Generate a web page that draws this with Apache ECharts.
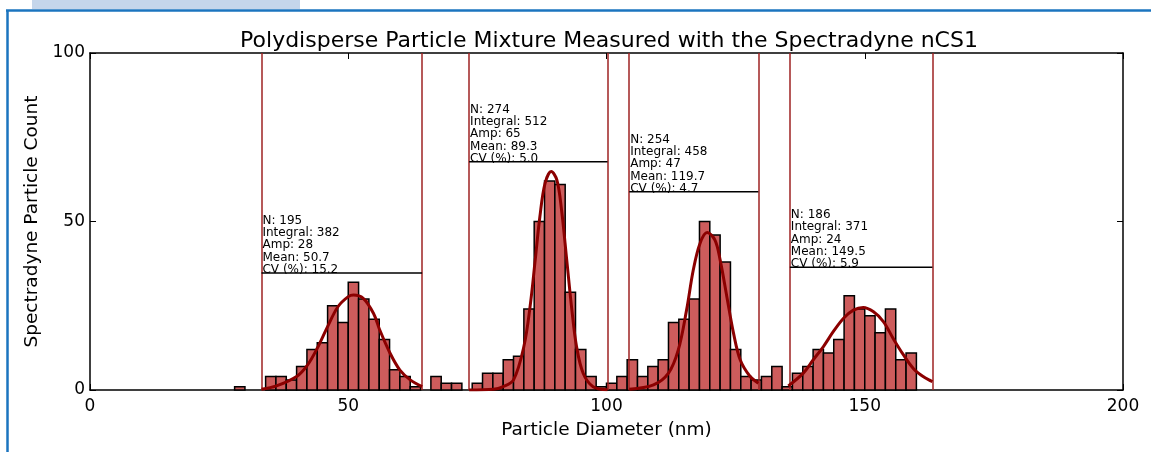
<!DOCTYPE html>
<html>
<head>
<meta charset="utf-8">
<title>Polydisperse Particle Mixture</title>
<script src="https://cdn.jsdelivr.net/npm/echarts@6/dist/echarts.min.js"></script>
<style>
  html, body { margin: 0; padding: 0; background: #fff; }
  #chart { width: 1151px; height: 452px; }
</style>
</head>
<body>
<div id="chart"></div>
<script>
// histogram bins (left edge, nm) and counts, bin width 2 nm
var binLeft = [28, 30, 32, 34, 36, 38, 40, 42, 44, 46, 48, 50, 52, 54, 56, 58, 60, 62, 64, 66,
               68, 70, 72, 74, 76, 78, 80, 82, 84, 86, 88, 90, 92, 94, 96, 98, 100, 102, 104, 106,
               108, 110, 112, 114, 116, 118, 120, 122, 124, 126, 128, 130, 132, 134, 136, 138, 140, 142, 144, 146,
               148, 150, 152, 154, 156, 158];
var binRight = [30, 32, 34, 36, 38, 40, 42, 44, 46, 48, 50, 52, 54, 56, 58, 60, 62, 64, 66, 68,
                70, 72, 74, 76, 78, 80, 82, 84, 86, 88, 90, 92, 94, 96, 98, 100, 102, 104, 106, 108,
                110, 112, 114, 116, 118, 120, 122, 124, 126, 128, 130, 132, 134, 136, 138, 140, 142, 144, 146, 148,
                150, 152, 154, 156, 158, 160];
var counts = [1, 0, 0, 4, 4, 3, 7, 12, 14, 25, 20, 32, 27, 21, 15, 6, 4, 1, 0, 4,
              2, 2, 0, 2, 5, 5, 9, 10, 24, 50, 62, 61, 29, 12, 4, 1, 2, 4, 9, 4,
              7, 9, 20, 21, 27, 50, 46, 38, 12, 4, 3, 4, 7, 1, 5, 7, 12, 11, 15, 28,
              24, 22, 17, 24, 9, 11];

// fitted curves
var fit1X = [33.2, 36.1, 40.0, 42.1, 44.0, 46.0, 48.0, 50.0, 51.0, 52.9, 54.9, 56.1, 58.1, 60.0, 62.0, 64.3];
var fit1Y = [0.2, 1.2, 4.0, 7.4, 12.4, 18.8, 24.7, 27.7, 28.2, 27.2, 22.7, 17.8, 10.9, 5.9, 3.0, 1.0];
var fit2X = [73.4, 78.1, 80.0, 82.0, 84.0, 85.2, 86.2, 87.1, 88.1, 89.3, 90.4, 91.3, 92.3, 93.3, 94.2, 95.5, 97.4, 100.2];
var fit2Y = [0, 0.2, 1.0, 3.0, 12.9, 24.7, 38.6, 51.4, 61.3, 64.8, 62.3, 53.4, 38.6, 23.7, 12.9, 4.9, 1.0, 0.1];
var fit3X = [104.4, 109.1, 112.0, 113.9, 115.5, 116.8, 118.1, 119.5, 121.0, 122.0, 123.3, 124.6, 125.9, 127.8, 129.4];
var fit3Y = [0.2, 1.5, 5.0, 11.9, 23.7, 35.6, 43.5, 46.7, 44.5, 38.6, 27.7, 16.8, 8.9, 4.0, 2.0];
var fit4X = [135.2, 138.1, 140.0, 142.0, 143.9, 145.9, 147.8, 149.7, 151.7, 153.6, 155.5, 157.5, 159.4, 161.3, 163.1];
var fit4Y = [1.2, 5.0, 8.9, 12.9, 17.3, 21.3, 23.7, 24.5, 23.2, 20.3, 15.3, 10.4, 6.4, 4.0, 2.5];

// peak windows and stats
var winLeft = [33.2, 73.4, 104.4, 135.5];
var winRight = [64.3, 100.2, 129.4, 163.1];
var statLineY = [34.7, 67.7, 58.8, 36.4];
var statN = [195, 274, 254, 186];
var statIntegral = [382, 512, 458, 371];
var statAmp = [28, 65, 47, 24];
var statMean = ['50.7', '89.3', '119.7', '149.5'];
var statCV = ['15.2', '5.0', '4.7', '5.9'];

var xTicks = [0, 50, 100, 150, 200];
var yTicks = [0, 50, 100];

var chart = echarts.init(document.getElementById('chart'));
var FONT = 'DejaVu Sans';
var BOUND = '#9e2222';
var FIT = '#8b0000';

function pairs(xs, ys) {
    return xs.map(function (x, i) { return [x, ys[i]]; });
}

var series = [];

// histogram bars
series.push({
    type: 'custom',
    xAxisIndex: 0, yAxisIndex: 0,
    data: binLeft.map(function (l, i) { return [l, binRight[i], counts[i]]; }),
    renderItem: function (params, api) {
        if (!api.value(2)) return null;
        var p0 = api.coord([api.value(0), api.value(2)]);
        var p1 = api.coord([api.value(1), 0]);
        return {
            type: 'rect',
            shape: { x: p0[0], y: p0[1], width: p1[0] - p0[0], height: p1[1] - p0[1] },
            style: { fill: '#cd5c5c', stroke: '#000', lineWidth: 1.5 }
        };
    },
    z: 2
});

// window boundaries
series.push({
    type: 'line', data: [], xAxisIndex: 0, yAxisIndex: 0,
    markLine: {
        silent: true, symbol: 'none', label: { show: false },
        lineStyle: { color: BOUND, width: 1.5, type: 'solid', opacity: 1 },
        data: winLeft.concat(winRight).map(function (v) { return { xAxis: v }; })
    },
    z: 4
});

// fit curves
[[fit1X, fit1Y], [fit2X, fit2Y], [fit3X, fit3Y], [fit4X, fit4Y]].forEach(function (f) {
    series.push({
        type: 'line', data: pairs(f[0], f[1]), smooth: 0.35,
        showSymbol: false, symbol: 'none',
        lineStyle: { color: FIT, width: 3 },
        z: 5
    });
});

// stat lines
winLeft.forEach(function (l, i) {
    series.push({
        type: 'line', data: [[l, statLineY[i]], [winRight[i], statLineY[i]]],
        showSymbol: false, symbol: 'none',
        lineStyle: { color: '#000', width: 1.5 },
        z: 6
    });
});

// stat text
series.push({
    type: 'scatter', symbolSize: 0,
    data: winLeft.map(function (l, i) { return [l, statLineY[i]]; }),
    label: {
        show: true,
        position: [1, 3],
        align: 'left', verticalAlign: 'bottom',
        fontFamily: FONT, fontSize: 12, lineHeight: 12.3, color: '#000', opacity: 1,
        formatter: function (p) {
            var i = p.dataIndex;
            return 'N: ' + statN[i] + '\nIntegral: ' + statIntegral[i] + '\nAmp: ' + statAmp[i] +
                '\nMean: ' + statMean[i] + '\nCV (%): ' + statCV[i];
        }
    },
    z: 7
});

var axisLine = { show: true, onZero: false, lineStyle: { color: '#000', width: 1.5 } };
var tick = { show: true, inside: true, length: 6, lineStyle: { color: '#000', width: 1 } };

chart.setOption({
    animation: false,
    backgroundColor: '#fff',
    textStyle: { fontFamily: FONT },
    title: {
        text: 'Polydisperse Particle Mixture Measured with the Spectradyne nCS1',
        left: 604, top: 25, textAlign: 'center',
        textStyle: { fontFamily: FONT, fontSize: 22, fontWeight: 'normal', color: '#000' }
    },
    grid: { left: 90, right: 28, top: 53, bottom: 62 },
    xAxis: [{
        type: 'value', min: xTicks[0], max: xTicks[xTicks.length - 1], interval: 50,
        name: 'Particle Diameter (nm)', nameLocation: 'middle', nameGap: 31,
        nameTextStyle: { fontFamily: FONT, fontSize: 18.5, color: '#000' },
        axisLine: axisLine, axisTick: tick,
        axisLabel: { fontFamily: FONT, fontSize: 17, color: '#000', margin: 8 },
        splitLine: { show: false }
    }, {
        type: 'value', position: 'top', min: xTicks[0], max: xTicks[xTicks.length - 1], interval: 50,
        axisLine: axisLine, axisTick: tick, axisLabel: { show: false }, splitLine: { show: false }
    }],
    yAxis: [{
        type: 'value', min: yTicks[0], max: yTicks[yTicks.length - 1], interval: 50,
        name: 'Spectradyne Particle Count', nameLocation: 'middle', nameGap: 44,
        nameTextStyle: { fontFamily: FONT, fontSize: 18.5, color: '#000' },
        axisLine: axisLine, axisTick: tick,
        axisLabel: { fontFamily: FONT, fontSize: 17, color: '#000', margin: 5 },
        splitLine: { show: false }
    }, {
        type: 'value', position: 'right', min: yTicks[0], max: yTicks[yTicks.length - 1], interval: 50,
        axisLine: axisLine, axisTick: tick, axisLabel: { show: false }, splitLine: { show: false }
    }],
    graphic: [
        { type: 'rect', shape: { x: 32, y: 0, width: 268, height: 9 }, style: { fill: '#c5d6eb' }, silent: true },
        { type: 'line', shape: { x1: 6, y1: 10.5, x2: 1151, y2: 10.5 }, style: { stroke: '#1b74bf', lineWidth: 2.5 }, silent: true },
        { type: 'line', shape: { x1: 7.5, y1: 10, x2: 7.5, y2: 452 }, style: { stroke: '#1b74bf', lineWidth: 2.5 }, silent: true }
    ],
    series: series
});
</script>
</body>
</html>
